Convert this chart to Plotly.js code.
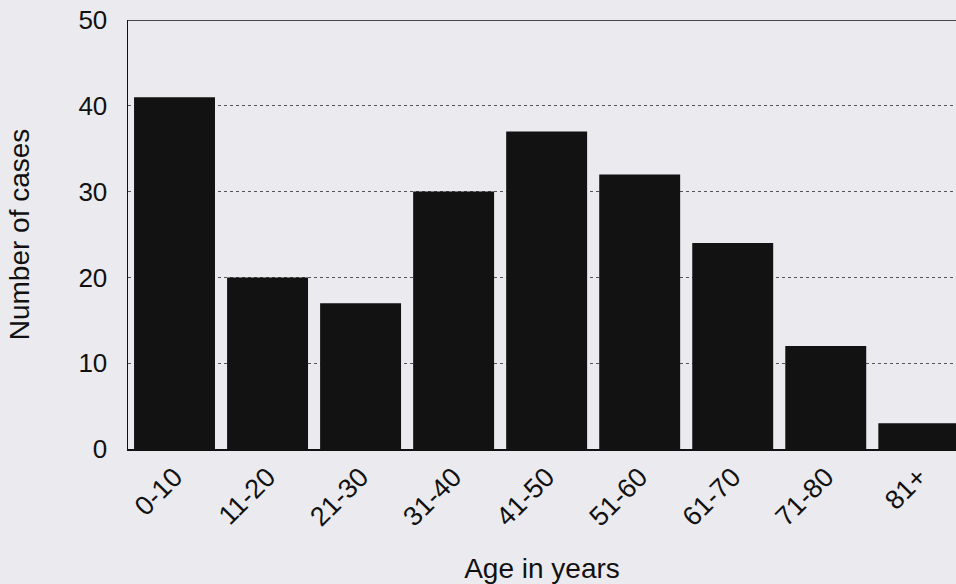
<!DOCTYPE html>
<html>
<head>
<meta charset="utf-8">
<script src="https://cdn.plot.ly/plotly-3.0.1.min.js"></script>
<style>html,body{margin:0;padding:0;background:#ebebef;}#chart{width:956px;height:584px;}</style>
</head>
<body>
<div id="chart"></div>
<script>
const ageGroups = ["0-10","11-20","21-30","31-40","41-50","51-60","61-70","71-80","81+"];
const cases = [41, 20, 17, 30, 37, 32, 24, 12, 3];
const yTicks = [0, 10, 20, 30, 40, 50];

const font = "Liberation Sans, Arial, sans-serif";
const trace = {
  type: "bar",
  x: ageGroups,
  y: cases,
  marker: {color: "#121212", line: {width: 0}},
  hoverinfo: "x+y"
};
const layout = {
  width: 956, height: 584,
  paper_bgcolor: "#ebebef",
  plot_bgcolor: "#ebebef",
  margin: {l: 128, r: 0, t: 20, b: 135},
  bargap: 0.13,
  showlegend: false,
  font: {family: font, color: "#111", size: 26},
  xaxis: {
    type: "category",
    range: [-0.5, 8.4],
    tickangle: -45,
    showline: true, linecolor: "#111", linewidth: 1.5,
    showgrid: false, ticks: "",
    tickfont: {size: 27, family: font},
    title: {text: "Age in years", font: {size: 28, family: font}, standoff: 30}
  },
  yaxis: {
    range: [0, 50],
    tickvals: yTicks,
    showline: true, linecolor: "#111", linewidth: 1.5,
    showgrid: true, gridcolor: "#555", griddash: "dot", gridwidth: 1,
    zeroline: false, ticks: "",
    ticklabelstandoff: 14,
    tickfont: {size: 26, family: font},
    title: {text: "Number of cases", font: {size: 28, family: font}, standoff: 40}
  },
  shapes: [{
    type: "line", xref: "paper", yref: "y",
    x0: 0, x1: 1, y0: 50, y1: 50,
    line: {color: "#111", width: 1.5}
  }]
};
Plotly.newPlot("chart", [trace], layout, {displayModeBar: false, staticPlot: true});
</script>
</body>
</html>
